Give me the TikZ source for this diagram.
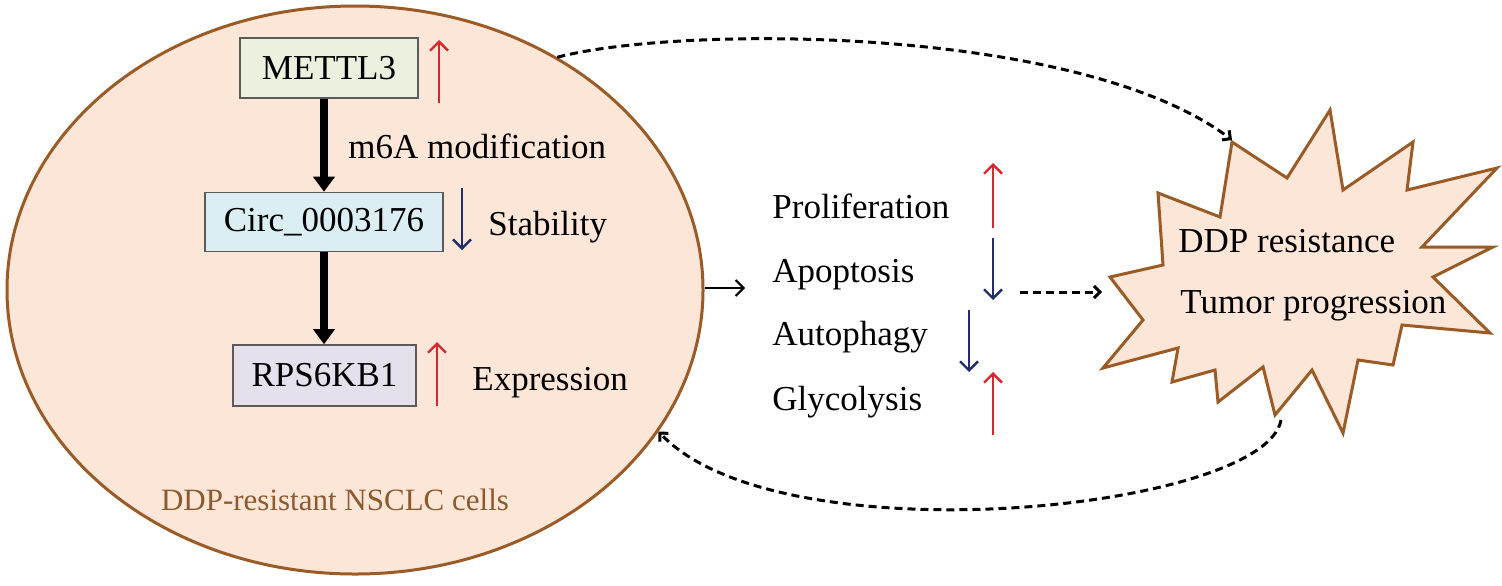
\documentclass[tikz,border=0pt]{standalone}
\usepackage{fontspec}
\setmainfont{Liberation Serif}
\usetikzlibrary{arrows.meta,shapes.geometric}
\definecolor{cellfill}{HTML}{FCE6D8}
\definecolor{cellline}{HTML}{9A5B26}
\definecolor{celltext}{HTML}{8C5A2E}
\definecolor{gbox}{HTML}{EBF1DE}
\definecolor{bbox}{HTML}{DBEEF4}
\definecolor{pbox}{HTML}{E6E0EC}
\definecolor{boxline}{HTML}{5A5A5A}
\definecolor{upred}{HTML}{D9262E}
\definecolor{dnblue}{HTML}{1F2F6B}
\tikzset{
  gene/.style={draw=boxline, line width=0.8pt, minimum height=30pt, inner sep=0pt, font=\fontsize{17.5}{20}\selectfont},
  lbl/.style={inner sep=0pt, font=\fontsize{17.5}{20}\selectfont},
  thickarrow/.style={line width=4pt, -{Triangle[width=10.5pt,length=7.5pt]}},
  uparrow/.style={upred, line width=1.2pt, -{Straight Barb[length=4.5pt,width=9pt]}},
  dnarrow/.style={dnblue, line width=1.2pt, -{Straight Barb[length=4.5pt,width=9pt]}},
  dasharrow/.style={line width=1.5pt, dash pattern=on 4pt off 2.5pt, -{Straight Barb[length=3pt,width=6pt]}},
  burst/.style={draw=cellline, fill=cellfill, line width=1.5pt, line join=miter},
}
\begin{document}
\begin{tikzpicture}[x=0.5pt, y=-0.5pt]
\useasboundingbox (0,0) rectangle (1502,585);
% cell
\node[ellipse, draw=cellline, fill=cellfill, line width=1.5pt, minimum width=348pt, minimum height=284pt, inner sep=0pt] (cell) at (355,290) {};
\node[lbl, text=celltext, font=\fontsize{15.5}{18}\selectfont] (celllbl) at (335,500) {DDP-resistant NSCLC cells};
% genes
\node[gene, fill=gbox, minimum width=89pt] (m) at (329,68) {METTL3};
\node[gene, fill=bbox, minimum width=119pt, minimum height=29.5pt] (c) at (324,222) {Circ\_0003176};
\node[gene, fill=pbox, minimum width=91.5pt, minimum height=30.5pt] (r) at (324.5,375.5) {RPS6KB1};
\draw[thickarrow] (m.south -| c.north) -- (c.north);
\draw[thickarrow] (c.south) -- (r.north -| c.south);
\node[lbl, anchor=base west] (m6a) at (348,158) {m6A modification};
\node[lbl, anchor=base west] (stab) at (488,235) {Stability};
\node[lbl, anchor=base west] (expr) at (472,390) {Expression};
\draw[uparrow] (439,103) -- (439,40);
\draw[dnarrow] (462,188) -- (462,250);
\draw[uparrow] (437,406) -- (437,342);
% outcomes
\node[lbl, anchor=base west] (prol) at (772,218) {Proliferation};
\node[lbl, anchor=base west] (apop) at (772,282) {Apoptosis};
\node[lbl, anchor=base west] (auto) at (772,345) {Autophagy};
\node[lbl, anchor=base west] (glyc) at (772,410) {Glycolysis};
\draw[uparrow] (993,228) -- (993,163);
\draw[dnarrow] (993,238) -- (993,300);
\draw[dnarrow] (969,310) -- (969,372);
\draw[uparrow] (993,435) -- (993,372);
% burst
\draw[burst] (1110,277) -- (1163,265) -- (1158,193) -- (1220,217) -- (1232,142) -- (1287,178) -- (1330,110) -- (1343,190) -- (1413,142) -- (1407,190) -- (1497,168) -- (1422,247) -- (1493,247) -- (1433,277) -- (1490,333) -- (1402,325) -- (1393,365) -- (1358,360) -- (1343,433) -- (1312,370) -- (1275,415) -- (1263,367) -- (1218,402) -- (1215,370) -- (1172,382) -- (1178,348) -- (1103,368) -- (1143,320) -- cycle;
\coordinate (btop) at (1232,140);
\coordinate (bbot) at (1281,420);
\coordinate (bleft) at (1102,292);
\node[lbl, anchor=base west] (ddp) at (1178,252) {DDP resistance};
\node[lbl, anchor=base west] (tum) at (1180,313) {Tumor progression};
% connectors
\coordinate (pe) at (745,288);
\coordinate (ds) at (1020,292);
\draw[line width=1pt, -{Straight Barb[length=4pt,width=8pt]}] (cell.east |- pe) -- (pe);
\draw[dasharrow] (ds) -- (bleft);
\draw[dasharrow] (cell.49) .. controls (680,25) and (1080,25) .. (btop);
\draw[dasharrow] (bbot) .. controls (1265,510) and (780,560) .. (cell.-25);
\end{tikzpicture}
\end{document}
